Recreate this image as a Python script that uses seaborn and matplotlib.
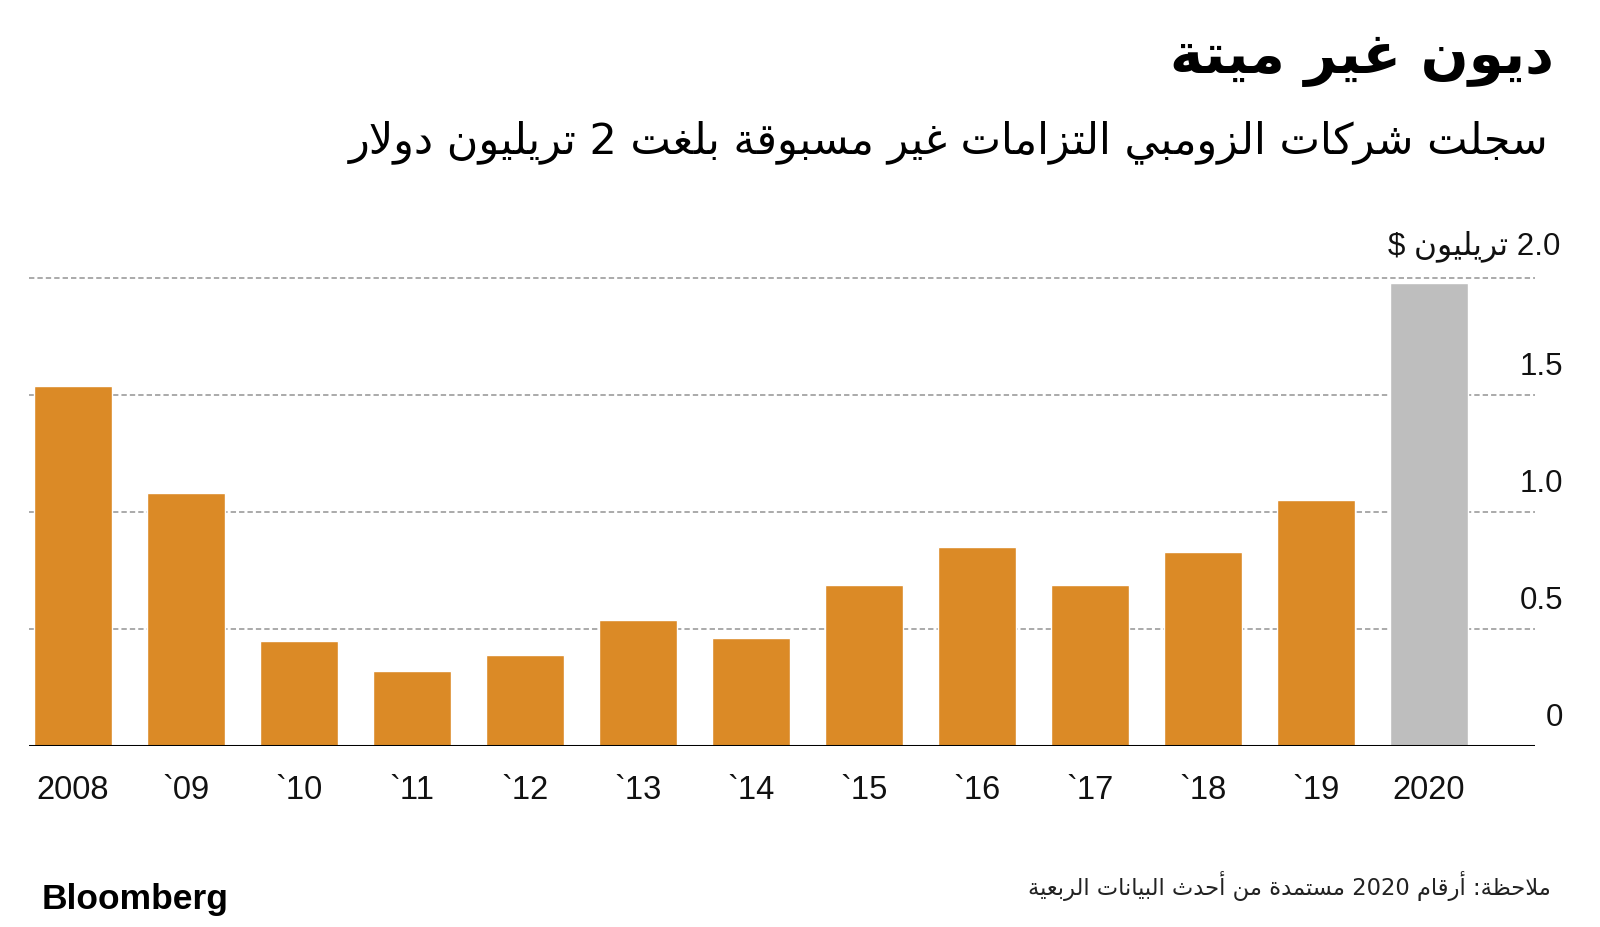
import re
import seaborn as sns
import matplotlib.pyplot as plt

# data
YEARS = ['2008', '`09', '`10', '`11', '`12', '`13', '`14', '`15', '`16', '`17', '`18', '`19', '2020']
DEBT = [1.54, 1.08, 0.45, 0.32, 0.39, 0.54, 0.46, 0.69, 0.85, 0.69, 0.83, 1.05, 1.98]
Y_TICKS = [0, 0.5, 1.0, 1.5]
Y_TICK_LABELS = ['0', '0.5', '1.0', '1.5']

TITLE = 'ديون غير ميتة'
SUBTITLE = 'سجلت شركات الزومبي التزامات غير مسبوقة بلغت 2 تريليون دولار'
UNIT = '2.0 تريليون $'
NOTE = 'ملاحظة: أرقام 2020 مستمدة من أحدث البيانات الربعية'

ORANGE = '#DB8A26'
GREY = '#BEBEBE'


# ARABIC SHAPING (matplotlib has no shaping / bidi of its own)
# base letter -> first presentation form, number of forms
FORMS = {
    'ا': (0xFE8D, 2), 'أ': (0xFE83, 2), 'إ': (0xFE87, 2), 'آ': (0xFE81, 2),
    'ب': (0xFE8F, 4), 'ة': (0xFE93, 2), 'ت': (0xFE95, 4), 'ث': (0xFE99, 4),
    'ج': (0xFE9D, 4), 'ح': (0xFEA1, 4), 'خ': (0xFEA5, 4), 'د': (0xFEA9, 2),
    'ذ': (0xFEAB, 2), 'ر': (0xFEAD, 2), 'ز': (0xFEAF, 2), 'س': (0xFEB1, 4),
    'ش': (0xFEB5, 4), 'ص': (0xFEB9, 4), 'ض': (0xFEBD, 4), 'ط': (0xFEC1, 4),
    'ظ': (0xFEC5, 4), 'ع': (0xFEC9, 4), 'غ': (0xFECD, 4), 'ف': (0xFED1, 4),
    'ق': (0xFED5, 4), 'ك': (0xFED9, 4), 'ل': (0xFEDD, 4), 'م': (0xFEE1, 4),
    'ن': (0xFEE5, 4), 'ه': (0xFEE9, 4), 'و': (0xFEED, 2), 'ى': (0xFEEF, 2),
    'ي': (0xFEF1, 4),
}
LAM_ALEF = {'ا': 0xFEFB, 'أ': 0xFEF7, 'إ': 0xFEF9, 'آ': 0xFEF5}


def ar(text):
    # merge lam + alef first
    chars = []
    i = 0
    while i < len(text):
        c = text[i]
        if c == 'ل' and i + 1 < len(text) and text[i + 1] in LAM_ALEF:
            chars.append(('LA', text[i + 1]))
            i += 2
        else:
            chars.append((c, None))
            i += 1

    def joins_next(item):
        c = item[0]
        return c in FORMS and FORMS[c][1] == 4

    def is_letter(item):
        return item[0] in FORMS or item[0] == 'LA'

    out = []
    for k, item in enumerate(chars):
        prev = chars[k - 1] if k > 0 else None
        nxt = chars[k + 1] if k + 1 < len(chars) else None
        p = prev is not None and joins_next(prev)
        if item[0] == 'LA':
            code = LAM_ALEF[item[1]] + (1 if p else 0)
            out.append(chr(code))
            continue
        c = item[0]
        if c not in FORMS:
            out.append(c)
            continue
        base, n = FORMS[c]
        nx = n == 4 and nxt is not None and is_letter(nxt)
        if n == 2:
            idx = 1 if p else 0
        elif p and nx:
            idx = 3
        elif p:
            idx = 1
        elif nx:
            idx = 2
        else:
            idx = 0
        out.append(chr(base + idx))
    s = ''.join(out)[::-1]
    # numbers keep left-to-right order
    return re.sub(r'[0-9.]+', lambda m: m.group()[::-1], s)


sns.set_theme(style='white')
plt.rcParams['font.family'] = ['Liberation Sans', 'DejaVu Sans']

W, H = 1600, 927
fig = plt.figure(figsize=(16, 9.27), dpi=100)

base_px, top_px = 746, 273.3
ax = fig.add_axes([29 / W, (H - base_px) / H, 1506 / W, (base_px - top_px) / H])

sns.barplot(
    x=YEARS, y=DEBT, hue=YEARS,
    palette=[ORANGE] * 12 + [GREY],
    saturation=1, width=0.69, legend=False, ax=ax, zorder=2
)

ax.set_xlim(-0.385, 12.94)
ax.set_ylim(0, 2.02)
for s in ax.spines.values():
    s.set_visible(False)

# dashed grid
for v in Y_TICKS[1:] + [2.0]:
    ax.axhline(v, color='#939393', lw=1.1, ls=(0, (3.5, 2)), zorder=1)
ax.axhline(0, color='black', lw=2.2, zorder=3)

ax.set_yticks([])
ax.set_xlabel('')
ax.set_ylabel('')
ax.tick_params(axis='x', length=0, pad=21, labelsize=23.5, labelcolor='#111111')

# y labels on the right, above each gridline
for v, lab in zip(Y_TICKS, Y_TICK_LABELS):
    ax.annotate(lab, xy=(1, v), xycoords=('axes fraction', 'data'),
                xytext=(20, 20), textcoords='offset points',
                ha='right', va='center', fontsize=22.5, color='#111111')
ax.annotate(ar(UNIT), xy=(1, 2.0), xycoords=('axes fraction', 'data'),
            xytext=(18, 23), textcoords='offset points',
            ha='right', va='center', fontsize=22.5, color='#111111')

fig.text(1554 / W, 1 - 60 / H, ar(TITLE), ha='right', va='center',
         fontsize=40.5, fontweight='bold', family='DejaVu Sans', color='black')
fig.text(1549 / W, 1 - 142 / H, ar(SUBTITLE), ha='right', va='center',
         fontsize=31, family='DejaVu Sans', color='black')
fig.text(1551 / W, 1 - 886 / H, ar(NOTE), ha='right', va='center',
         fontsize=16.3, family='DejaVu Sans', color='#222222')
fig.text(42 / W, 1 - 899 / H, 'Bloomberg', ha='left', va='center',
         fontsize=25.5, fontweight='bold', color='black')

fig.savefig('out.png', dpi=100, facecolor='white')
